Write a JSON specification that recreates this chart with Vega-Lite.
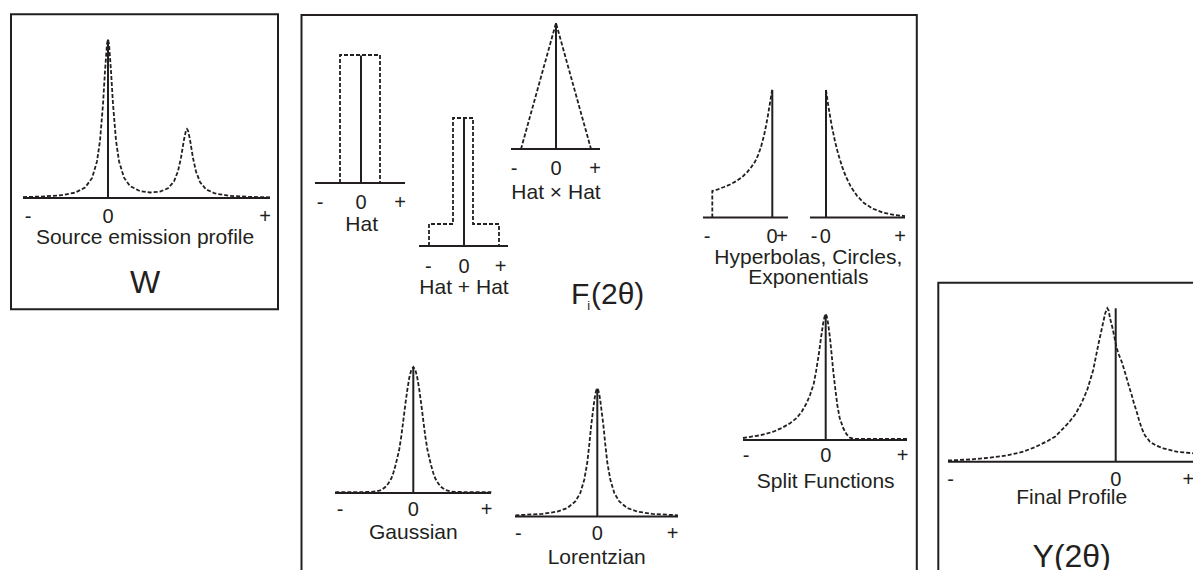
{
  "$schema": "https://vega.github.io/schema/vega-lite/v6.json",
  "width": 1193,
  "height": 570,
  "padding": 0,
  "autosize": "none",
  "background": "white",
  "config": {
    "view": {"stroke": null},
    "text": {"font": "Liberation Sans", "color": "#231f20"}
  },
  "datasets": {
    "boxes": [
      {"x": 11, "x2": 278, "y": 14.3, "y2": 309.3},
      {"x": 301.5, "x2": 916.8, "y": 15, "y2": 600},
      {"x": 938.3, "x2": 1230, "y": 282.7, "y2": 600}
    ],
    "rules": [
      {"x": 23, "x2": 270, "y": 198, "y2": 198},
      {"x": 108, "x2": 108, "y": 198, "y2": 39.5},
      {"x": 315, "x2": 405, "y": 183, "y2": 183},
      {"x": 361, "x2": 361, "y": 183, "y2": 55.5},
      {"x": 419, "x2": 508, "y": 246, "y2": 246},
      {"x": 464, "x2": 464, "y": 246, "y2": 118},
      {"x": 511, "x2": 600, "y": 149, "y2": 149},
      {"x": 556, "x2": 556, "y": 149, "y2": 23},
      {"x": 703, "x2": 788, "y": 217.5, "y2": 217.5},
      {"x": 772.3, "x2": 772.3, "y": 217.5, "y2": 90},
      {"x": 810, "x2": 905, "y": 217.5, "y2": 217.5},
      {"x": 826, "x2": 826, "y": 217.5, "y2": 90},
      {"x": 335, "x2": 491, "y": 493, "y2": 493},
      {"x": 413.3, "x2": 413.3, "y": 493, "y2": 367},
      {"x": 515, "x2": 678, "y": 516.5, "y2": 516.5},
      {"x": 597.3, "x2": 597.3, "y": 516.5, "y2": 388.5},
      {"x": 743, "x2": 907, "y": 440, "y2": 440},
      {"x": 825.7, "x2": 825.7, "y": 440, "y2": 314.3},
      {"x": 948, "x2": 1193, "y": 461.7, "y2": 461.7},
      {"x": 1115.7, "x2": 1115.7, "y": 461.7, "y2": 308.3}
    ],
    "curves": [
      {"c": "W",
       "x": [23,40,60,75,85,92,97,100,103,105,107,108,109,111,113,116,119,124,130,140,150,160,168,174,178,181,184,186,187,188,190,193,196,200,206,215,230,250,270],
       "y": [197.1,196.6,195.4,192.7,187.6,178.2,161.4,140.7,104.3,71.2,43.9,39.5,43.8,71.0,104.1,140.5,161.2,177.7,186.0,191.2,192.5,191.6,188.3,181.4,171.2,157.7,139.6,130.4,129.0,130.5,139.7,158.0,171.5,182.0,189.3,193.5,195.9,196.9,197.3]},
      {"c": "Hat", "x": [340,340,380,380], "y": [183,55,55,183]},
      {"c": "HatPlusHat", "x": [429,429,453,453,473,473,499,499], "y": [246,224,224,118,118,224,224,246]},
      {"c": "HatTimesHat", "x": [521,556,591], "y": [149,23,149]},
      {"c": "HypLeft",
       "x": [712.3,712.3,718,724,730,736,742,747,751,755,758,761,764,766,768,770,771.5,772.3],
       "y": [217.5,191,189.3,187,184.5,181.3,177.2,172.3,167.5,161.7,155.5,147,135.5,126,115,103,93.5,89.5]},
      {"c": "HypRight",
       "x": [826,828,830,832,835,838,842,846,851,857,864,873,883,894,905],
       "y": [90,103.8,116,127,141.3,153.3,166.4,176.8,187,195.8,203,208.8,212.6,214.9,216.1]},
      {"c": "Gaussian",
       "x": [335.3,368.3,375.3,381.3,385.3,388.3,391.3,393.3,395.3,397.3,399.3,401.3,403.3,405.3,407.3,409.3,411.3,413.3,415.3,417.3,419.3,421.3,423.3,425.3,427.3,429.3,431.3,433.3,435.3,438.3,441.3,445.3,451.3,458.3,491.3],
       "y": [492.2,492,491.5,490,487,483.5,478.5,473,466,458,449,436.3,420.6,404.6,389.8,377.7,369.8,367,369.8,377.7,389.8,404.6,420.6,436.3,449,458,466,473,478.5,483.5,487,490,491.5,492,492.2]},
      {"c": "Lorentzian",
       "x": [515.3,542.3,557.3,567.3,575.3,580.3,584.3,587.3,589.3,591.3,593.3,594.3,595.3,596.3,597.3,598.3,599.3,600.3,601.3,603.3,605.3,607.3,610.3,614.3,619.3,627.3,637.3,652.3,678],
       "y": [515.3,513.9,511.6,508,501.5,493,479.5,462.5,444.5,424.5,408.5,400.5,394.5,390,388.5,390,394.5,400.5,408.5,424.5,444.5,462.5,479.5,493,501.5,508,511.6,513.9,515.3]},
      {"c": "Split",
       "x": [743,760.7,773.3,781.7,790,796.7,801.7,806.7,810,813.7,816,818.7,821,823.2,824.7,825.7,826.7,828.2,830,831.7,833.3,835.2,837.3,839.7,843.3,846.7,850,853.7,907],
       "y": [438,435.2,431.7,428,423.3,418,411.7,403,395,384,371.7,355,338,323,316,314.3,316,324,338,355,371.7,388,405,418,428.3,434.5,437.7,438.8,439]},
      {"c": "Final",
       "x": [948,970,990.3,1008,1023.3,1035.3,1047.3,1055.3,1063.3,1069.3,1075.3,1081.3,1087.3,1093.3,1098.3,1101.3,1103.3,1105.3,1107.3,1108.7,1110,1111.7,1113.3,1115,1116.7,1119,1121.7,1124,1126.7,1129,1131.7,1134,1136.7,1139,1141.7,1145,1150,1156,1163.3,1176.7,1193],
       "y": [460.5,459.5,457.7,455.2,451.7,447,441.2,436.5,428.3,422,414.2,403.7,389.7,369.7,344.7,331,321.7,313,308.3,310.5,318.3,324.5,331.7,340,348.3,355,361.7,369,378.3,386.5,395,403.5,411.7,420,428.3,435.5,441.7,445.5,448.3,451.7,453.3]}
    ],
    "ticks": [
      {"t": "-", "x": 28, "y": 216.5}, {"t": "0", "x": 108, "y": 216.5}, {"t": "+", "x": 265, "y": 216.5},
      {"t": "-", "x": 320, "y": 203.3}, {"t": "0", "x": 361, "y": 203.3}, {"t": "+", "x": 400, "y": 203.3},
      {"t": "-", "x": 428.3, "y": 266.7}, {"t": "0", "x": 464, "y": 266.7}, {"t": "+", "x": 500.5, "y": 266.7},
      {"t": "-", "x": 514, "y": 169.3}, {"t": "0", "x": 556, "y": 169.3}, {"t": "+", "x": 595, "y": 169.3},
      {"t": "-", "x": 707, "y": 236.7}, {"t": "0", "x": 772, "y": 236.7}, {"t": "+", "x": 782, "y": 236.7},
      {"t": "-", "x": 814, "y": 236.7}, {"t": "0", "x": 825.3, "y": 236.7}, {"t": "+", "x": 900, "y": 236.7},
      {"t": "-", "x": 340, "y": 510}, {"t": "0", "x": 413.3, "y": 510}, {"t": "+", "x": 486.7, "y": 510},
      {"t": "-", "x": 518.3, "y": 534.3}, {"t": "0", "x": 597.3, "y": 534.3}, {"t": "+", "x": 672.7, "y": 534.3},
      {"t": "-", "x": 746, "y": 456}, {"t": "0", "x": 825.7, "y": 456}, {"t": "+", "x": 902.7, "y": 456},
      {"t": "-", "x": 950.7, "y": 480}, {"t": "0", "x": 1115.7, "y": 480}, {"t": "+", "x": 1188.3, "y": 480}
    ],
    "names": [
      {"t": "Source emission profile", "x": 145, "y": 237.5},
      {"t": "Hat", "x": 361.7, "y": 225},
      {"t": "Hat + Hat", "x": 464, "y": 288.3},
      {"t": "Hat × Hat", "x": 556, "y": 193.3},
      {"t": "Hyperbolas, Circles,", "x": 808.3, "y": 258.3},
      {"t": "Exponentials", "x": 808.3, "y": 278.3},
      {"t": "Gaussian", "x": 413.3, "y": 533.3},
      {"t": "Lorentzian", "x": 596.7, "y": 558.3},
      {"t": "Split Functions", "x": 825.7, "y": 481.7},
      {"t": "Final Profile", "x": 1071.7, "y": 497.5}
    ],
    "titlesCentered": [
      {"t": "W", "x": 145, "y": 293.3},
      {"t": "Y(2θ)", "x": 1071.7, "y": 566.5}
    ],
    "titlesLeft": [
      {"t": "F", "x": 571, "y": 303.5},
      {"t": "(2θ)", "x": 591, "y": 303.5}
    ],
    "subscripts": [
      {"t": "i", "x": 587.3, "y": 310}
    ]
  },
  "layer": [
    {
      "data": {"name": "boxes"},
      "mark": {"type": "rect", "filled": false, "stroke": "#231f20", "strokeWidth": 2, "clip": true},
      "encoding": {
        "x": {"field": "x", "type": "quantitative", "scale": {"domain": [0, 1193], "nice": false, "zero": false}, "axis": null},
        "x2": {"field": "x2"},
        "y": {"field": "y", "type": "quantitative", "scale": {"domain": [0, 570], "nice": false, "zero": false, "reverse": true}, "axis": null},
        "y2": {"field": "y2"}
      }
    },
    {
      "data": {"name": "rules"},
      "mark": {"type": "rule", "color": "#231f20", "strokeWidth": 2},
      "encoding": {
        "x": {"field": "x", "type": "quantitative", "axis": null},
        "x2": {"field": "x2"},
        "y": {"field": "y", "type": "quantitative", "axis": null},
        "y2": {"field": "y2"}
      }
    },
    {
      "data": {"name": "curves"},
      "transform": [{"flatten": ["x", "y"]}],
      "mark": {"type": "line", "color": "#231f20", "strokeWidth": 1.8, "strokeDash": [4, 2]},
      "encoding": {
        "x": {"field": "x", "type": "quantitative", "axis": null},
        "y": {"field": "y", "type": "quantitative", "axis": null},
        "detail": {"field": "c", "type": "nominal"},
        "order": {"value": null}
      }
    },
    {
      "data": {"name": "ticks"},
      "mark": {"type": "text", "fontSize": 20, "align": "center", "baseline": "middle"},
      "encoding": {
        "x": {"field": "x", "type": "quantitative", "axis": null},
        "y": {"field": "y", "type": "quantitative", "axis": null},
        "text": {"field": "t"}
      }
    },
    {
      "data": {"name": "names"},
      "mark": {"type": "text", "fontSize": 21, "align": "center", "baseline": "middle"},
      "encoding": {
        "x": {"field": "x", "type": "quantitative", "axis": null},
        "y": {"field": "y", "type": "quantitative", "axis": null},
        "text": {"field": "t"}
      }
    },
    {
      "data": {"name": "titlesCentered"},
      "mark": {"type": "text", "fontSize": 32, "align": "center", "baseline": "alphabetic"},
      "encoding": {
        "x": {"field": "x", "type": "quantitative", "axis": null},
        "y": {"field": "y", "type": "quantitative", "axis": null},
        "text": {"field": "t"}
      }
    },
    {
      "data": {"name": "titlesLeft"},
      "mark": {"type": "text", "fontSize": 30, "align": "left", "baseline": "alphabetic"},
      "encoding": {
        "x": {"field": "x", "type": "quantitative", "axis": null},
        "y": {"field": "y", "type": "quantitative", "axis": null},
        "text": {"field": "t"}
      }
    },
    {
      "data": {"name": "subscripts"},
      "mark": {"type": "text", "fontSize": 13, "align": "left", "baseline": "alphabetic"},
      "encoding": {
        "x": {"field": "x", "type": "quantitative", "axis": null},
        "y": {"field": "y", "type": "quantitative", "axis": null},
        "text": {"field": "t"}
      }
    }
  ]
}
